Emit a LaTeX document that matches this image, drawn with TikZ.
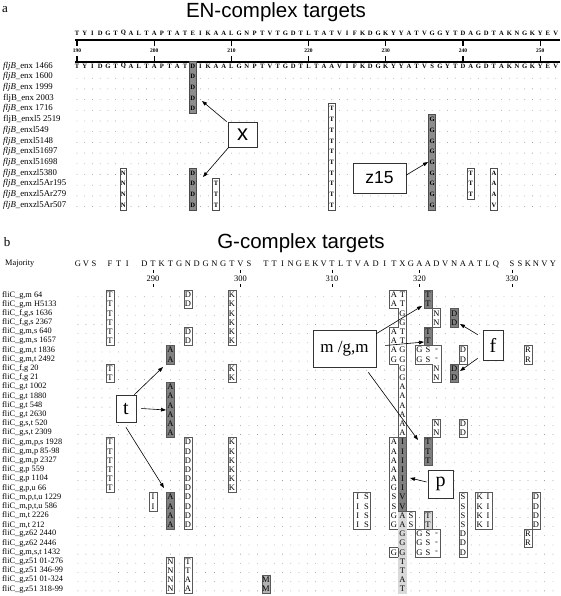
\documentclass[tikz,border=0pt]{standalone}
\usepackage{fontspec}
\setmainfont{Liberation Serif}
\newfontfamily\sansf{Liberation Sans}
\usetikzlibrary{arrows.meta}
\newcommand\BX[1]{\csname bx#1\endcsname}
\newcommand\RY[1]{(295+((#1)-1)*9.19)}
\newcommand\AX[1]{(77+(#1)*7.72)}
\newcommand\AY[1]{(66+((#1)-1)*10.7)}
\newcommand\abx[4]{\draw[#1] ({\AX{#2}-3.4},{\AY{#3}-5}) rectangle ({\AX{#2}+3.4},{\AY{#4}+5});}
\newcommand\alets[3]{\foreach \c [count=\i from 0] in {#3} {\node[alet] at ({\AX{#1}},{\AY{#2+\i}}) {\c};}}
\newcommand\bbx[5]{\draw[#1] ({\BX{#2}-4.1},{\RY{#4}-4.6}) rectangle ({\BX{#3}+4.1},{\RY{#5}+4.6});}
\newcommand\blets[3]{\foreach \c [count=\i from 0] in {#3} {\node[blet] at ({\BX{#1}},{\RY{#2+\i}}) {\c};}}
\begin{document}
\begin{tikzpicture}[x=1pt,y=-1pt,
  arr/.style={-{Triangle[length=5pt,width=3.6pt]},line width=0.6pt},
  labbox/.style={draw=black!80,line width=0.7pt,fill=white,inner sep=0pt},
  ttl/.style={font=\sansf\fontsize{20.5}{20.5}\selectfont,anchor=base},
  panl/.style={font=\fontsize{13}{13}\selectfont,inner sep=0pt,anchor=base},
  aname/.style={anchor=west,font=\fontsize{8.8}{8.8}\selectfont,inner sep=0pt},
  bname/.style={anchor=west,font=\fontsize{8.3}{8.3}\selectfont,inner sep=0pt},
  alet/.style={font=\bfseries\fontsize{6.6}{6.6}\selectfont,inner sep=0pt},
  anum/.style={font=\bfseries\fontsize{5.5}{5.5}\selectfont,inner sep=0pt},
  blet/.style={font=\fontsize{8.5}{8.5}\selectfont,inner sep=0pt},
  abox/.style={draw=black!70,line width=0.6pt,fill=white},
  agray/.style={draw=black!70,line width=0.6pt,fill=black!45},
  bw/.style={draw=black!65,line width=0.7pt,fill=white},
  bd/.style={draw=black!65,line width=0.7pt,fill=black!50},
  bm/.style={draw=black!65,line width=0.7pt,fill=black!30},
  bl/.style={draw=black!65,line width=0.7pt,fill=black!15},
  dots/.style={fill=black!45},
]
\useasboundingbox (0,0) rectangle (560,596);
\fill[white] (0,0) rectangle (560,596);
\foreach \v [count=\i from 0] in {78,86,94,102,110,118.6,127.2,135.8,144.4,153,161.8,170.5,179.3,188,196.8,205.6,214.4,223.2,232,240.5,249,257.5,266,274.3,282.5,290.8,299,307.3,315.5,323.8,332,340.6,349.3,357.9,366.5,375.7,384.8,394,402.5,411,419.5,428,436.5,445.3,454.2,463,471.3,479.7,488,496,504,512,520,528,536,544.5,553} {\expandafter\xdef\csname bx\i\endcsname{\v}}

% ---------------- panel a ----------------
\node[panl] (pa) at (5,13) {a};
\node[ttl] (ta) at (276,17.5) {EN-complex targets};
\foreach \c [count=\i from 0] in {T,Y,I,D,G,T,Q,A,L,T,A,P,T,A,T,E,I,K,A,A,L,G,N,P,T,V,T,G,D,T,L,T,A,T,V,I,F,K,D,G,K,Y,Y,A,T,V,G,G,Y,T,D,A,G,D,T,A,K,N,G,K,Y,E,V} {\node[alet] at ({\AX{\i}},33) {\c};}
\draw[line width=1.1pt] (75,40) -- (560,40);
\draw[line width=1.1pt] (75,62) -- (560,62);
\foreach \n [count=\i from 0] in {190,200,210,220,230,240,250} {
  \draw[line width=1.3pt] ({\AX{10*\i}},40) -- ({\AX{10*\i}},46);
  \draw[line width=1.3pt] ({\AX{10*\i}},56) -- ({\AX{10*\i}},62);
  \node[anum] at ({\AX{10*\i}},51) {\n};
}
\node[aname] (a1) at (3,{\AY{1}}) {\textit{fljB}\_enx 1466};
\node[aname] (a2) at (3,{\AY{2}}) {\textit{fljB}\_enx 1600};
\node[aname] (a3) at (3,{\AY{3}}) {\textit{fljB}\_enx 1999};
\node[aname] (a4) at (3,{\AY{4}}) {fljB\_enx 2003};
\node[aname] (a5) at (3,{\AY{5}}) {\textit{fljB}\_enx 1716};
\node[aname] (a6) at (3,{\AY{6}}) {fljB\_enxl5 2519};
\node[aname] (a7) at (3,{\AY{7}}) {\textit{fljB}\_enxl549};
\node[aname] (a8) at (3,{\AY{8}}) {\textit{fljB}\_enxl5148};
\node[aname] (a9) at (3,{\AY{9}}) {\textit{fljB}\_enxl51697};
\node[aname] (a10) at (3,{\AY{10}}) {\textit{fljB}\_enxl51698};
\node[aname] (a11) at (3,{\AY{11}}) {\textit{fljB}\_enxzl5380};
\node[aname] (a12) at (3,{\AY{12}}) {\textit{fljB}\_enxzl5Ar195};
\node[aname] (a13) at (3,{\AY{13}}) {\textit{fljB}\_enxzl5Ar279};
\node[aname] (a14) at (3,{\AY{14}}) {\textit{fljB}\_enxzl5Ar507};
\fill[dots] \foreach \r in {2,...,14} {\foreach \c in {0,...,62} {({\AX{\c}},{\AY{\r}+1.5}) circle (0.42)}};
\abx{agray}{15}{1}{5} \alets{15}{2}{D,D,D,D}
\abx{agray}{15}{11}{14} \alets{15}{11}{D,D,D,D}
\abx{abox}{33}{5}{14} \alets{33}{5}{T,T,T,T,T,T,T,T,T,T}
\abx{agray}{46}{6}{14} \alets{46}{6}{G,G,G,G,G,G,G,G,G}
\abx{abox}{6}{11}{14} \alets{6}{11}{N,N,N,N}
\abx{abox}{18}{12}{14} \alets{18}{12}{T,T,T}
\abx{abox}{51}{11}{13} \alets{51}{11}{T,T,T}
\abx{abox}{54}{11}{14} \alets{54}{11}{A,A,A,V}
\foreach \c [count=\i from 0] in {T,Y,I,D,G,T,Q,A,L,T,A,P,T,A,T,D,I,K,A,A,L,G,N,P,T,V,T,G,D,T,L,T,A,A,V,I,F,K,D,G,K,Y,Y,A,T,V,S,G,Y,T,D,A,G,D,T,A,K,N,G,K,Y,E,V} {\node[alet] at ({\AX{\i}},{\AY{1}}) {\c};}
\node[labbox,minimum width=29pt,minimum height=25pt,font=\sansf\fontsize{22}{22}\selectfont] (xlab) at (242.5,134.5) {x};
\node[labbox,minimum width=53pt,minimum height=30pt,font=\sansf\fontsize{17.5}{17.5}\selectfont] (zlab) at (379.5,178) {z15};
\coordinate (xa1) at (202,101);
\coordinate (xa2) at (203,177);
\coordinate (za) at (428,162);
\draw[arr] ([xshift=-1pt]xlab.north west) -- (xa1);
\draw[arr] ([xshift=1pt]xlab.south west) -- (xa2);
\draw[arr] ([yshift=3pt]zlab.east) -- (za);

% ---------------- panel b ----------------
\node[panl] (pb) at (7,246) {b};
\node[ttl] (tb) at (301,248) {G-complex targets};
\node[bname] (maj) at (5,264) {Majority};
\foreach \k/\c in {0/G,1/V,2/S,4/F,5/T,6/I,8/D,9/T,10/K,11/T,12/G,13/N,14/D,15/G,16/N,17/G,18/T,19/V,20/S,22/T,23/T,24/I,25/N,26/G,27/E,28/K,29/V,30/T,31/L,32/T,33/V,34/A,35/D,36/I,37/T,38/X,39/G,40/A,41/A,42/D,43/V,44/N,45/A,46/A,47/T,48/L,49/Q,51/S,52/S,53/K,54/N,55/V,56/Y} {\node[blet] at ({\BX{\k}},264) {\c};}
\foreach \k/\n in {9/290,19/300,30/310,40/320,51/330} {
  \draw[line width=0.5pt] ({\BX{\k}},269.5) -- ({\BX{\k}},272.5);
  \node[blet] at ({\BX{\k}},278.5) {\n};
  \draw[line width=0.5pt] ({\BX{\k}},284) -- ({\BX{\k}},287);
}
\foreach \r/\t in {1/{fliC\_g,m 64},2/{fliC\_g,m H5133},3/{fliC\_f,g,s 1636},4/{fliC\_f,g,s 2367},5/{fliC\_g,m,s 640},6/{fliC\_g,m,s 1657},7/{fliC\_g,m,t 1836},8/{fliC\_g,m,t 2492},9/{fliC\_f,g 20},10/{fliC\_f,g 21},11/{fliC\_g,t 1002},12/{fliC\_g,t 1880},13/{fliC\_g,t 548},14/{fliC\_g,t 2630},15/{fliC\_g,s,t 520},16/{fliC\_g,s,t 2309},17/{fliC\_g,m,p,s 1928},18/{fliC\_g,m,p 85-98},19/{fliC\_g,m,p 2327},20/{fliC\_g,p 559},21/{fliC\_g,p 1104},22/{fliC\_g,p,u 66},23/{fliC\_m,p,t,u 1229},24/{fliC\_m,p,t,u 586},25/{fliC\_m,t 2226},26/{fliC\_m,t 212},27/{fliC\_g,z62 2440},28/{fliC\_g,z62 2446},29/{fliC\_g,m,s,t 1432},30/{fliC\_g,z51 01-276},31/{fliC\_g,z51 346-99},32/{fliC\_g,z51 01-324},33/{fliC\_g,z51 318-99}} {\node[bname] (b\r) at (2,{\RY{\r}}) {\t};}
\fill[dots] \foreach \r in {1,...,33} {\foreach \k in {0,...,56} {({\BX{\k}},{\RY{\r}+1.8}) circle (0.42)}};
% simple boxes
\bbx{bw}{4}{4}{1}{6} \blets{4}{1}{T,T,T,T,T,T}
\bbx{bw}{4}{4}{9}{10} \blets{4}{9}{T,T}
\bbx{bw}{4}{4}{17}{22} \blets{4}{17}{T,T,T,T,T,T}
\bbx{bw}{13}{13}{1}{2} \blets{13}{1}{D,D}
\bbx{bw}{13}{13}{5}{6} \blets{13}{5}{D,D}
\bbx{bw}{13}{13}{17}{26} \blets{13}{17}{D,D,D,D,D,D,D,D,D,D}
\bbx{bw}{18}{18}{1}{6} \blets{18}{1}{K,K,K,K,K,K}
\bbx{bw}{18}{18}{9}{10} \blets{18}{9}{K,K}
\bbx{bw}{18}{18}{17}{22} \blets{18}{17}{K,K,K,K,K,K}
\bbx{bd}{11}{11}{7}{8} \blets{11}{7}{A,A}
\bbx{bd}{11}{11}{11}{16} \blets{11}{11}{A,A,A,A,A,A}
\bbx{bd}{11}{11}{23}{26} \blets{11}{23}{A,A,A,A}
\bbx{bw}{9}{9}{23}{24} \blets{9}{23}{I,I}
\bbx{bw}{11}{11}{30}{33} \blets{11}{30}{N,N,N,N}
\bbx{bw}{13}{13}{30}{33} \blets{13}{30}{T,T,A,A}
\bbx{bm}{22}{22}{32}{33} \blets{22}{32}{M,M}
\bbx{bw}{33}{34}{23}{26} \blets{33}{23}{I,I,I,I} \blets{34}{23}{S,S,S,S}
\bbx{bd}{41}{41}{1}{2} \blets{41}{1}{T,T}
\bbx{bd}{41}{41}{5}{6} \blets{41}{5}{T,T}
\bbx{bd}{41}{41}{17}{19} \blets{41}{17}{T,T,T}
\bbx{bl}{41}{41}{25}{26} \blets{41}{25}{T,T}
\bbx{bw}{42}{42}{3}{4} \blets{42}{3}{N,N}
\bbx{bw}{42}{42}{15}{16} \blets{42}{15}{N,N}
\bbx{bd}{44}{44}{3}{4} \blets{44}{3}{D,D}
\bbx{bd}{44}{44}{9}{10} \blets{44}{9}{D,D}
\bbx{bw}{45}{45}{7}{8} \blets{45}{7}{D,D}
\bbx{bw}{45}{45}{15}{16} \blets{45}{15}{D,D}
\bbx{bw}{45}{45}{23}{29} \blets{45}{23}{S,S,S,S,D,D,D}
\bbx{bw}{47}{48}{23}{26} \blets{47}{23}{K,K,K,K} \blets{48}{23}{I,I,I,I}
\bbx{bw}{53}{53}{7}{8} \blets{53}{7}{R,R}
\bbx{bw}{53}{53}{27}{28} \blets{53}{27}{R,R}
\bbx{bw}{54}{54}{23}{26} \blets{54}{23}{D,D,D,D}
\bbx{bw}{40}{42}{27}{29} \blets{40}{27}{G,G,G} \blets{41}{27}{S,S,S} \blets{42}{27}{-,-,-}
% composite G S - / N box
\draw[bw] (415.25,{\RY{7}-4.6}) -- (440.9,{\RY{7}-4.6}) -- (440.9,{\RY{10}+4.6}) -- (432.25,{\RY{10}+4.6}) -- (432.25,{\RY{8}+4.6}) -- (415.25,{\RY{8}+4.6}) -- cycle;
\blets{40}{7}{G,G} \blets{41}{7}{S,S} \blets{42}{7}{-,-,N,N}
% big column
\def\La{389.75} \def\Lb{398.25} \def\Rb{406.75} \def\Rc{415.25}
\draw[bw] (\La,{\RY{1}-4.6}) -- (\Rb,{\RY{1}-4.6}) -- (\Rb,{\RY{24}+4.6}) -- (\Rc,{\RY{24}+4.6}) -- (\Rc,{\RY{26}+4.6}) -- (\Rb,{\RY{26}+4.6}) -- (\Rb,{\RY{33}+4.6}) -- (\Lb,{\RY{33}+4.6}) -- (\Lb,{\RY{29}+4.6}) -- (\La,{\RY{29}+4.6}) -- (\La,{\RY{29}-4.6}) -- (\Lb,{\RY{29}-4.6}) -- (\Lb,{\RY{26}+4.6}) -- (\La,{\RY{26}+4.6}) -- (\La,{\RY{17}-4.6}) -- (\Lb,{\RY{17}-4.6}) -- (\Lb,{\RY{8}+4.6}) -- (\La,{\RY{8}+4.6}) -- (\La,{\RY{5}-4.6}) -- (\Lb,{\RY{5}-4.6}) -- (\Lb,{\RY{2}+4.6}) -- (\La,{\RY{2}+4.6}) -- cycle;
\fill[black!50] (\Lb,{\RY{17}-4.6}) rectangle (\Rb,{\RY{24}+4.6});
\fill[black!15] (\Lb,{\RY{25}-4.6}) rectangle (\Rb,{\RY{33}+4.6});
\draw[black!65,line width=0.7pt] (\Lb,{\RY{17}-4.6}) rectangle (\Rb,{\RY{24}+4.6});
\draw[black!65,line width=0.7pt] (\Lb,{\RY{29}-4.6}) -- (\Lb,{\RY{29}+4.6});
\blets{37}{1}{A,A} \blets{37}{5}{A,A,A,G} \blets{37}{17}{A,A,A,A,A,G,S,S,G,G} \blets{37}{29}{G}
\blets{38}{1}{T,T,G,G,T,T,G,G,G,G,A,A,A,A,A,A,I,I,I,I,I,I,V,V,A,A,G,G,G,T,T,A,T}
\blets{39}{25}{S,S}
% label boxes and arrows
\node[labbox,minimum width=20pt,minimum height=27pt,font=\fontsize{20}{20}\selectfont] (tlab) at (126,408.5) {t};
\node[labbox,minimum width=63pt,minimum height=37pt,font=\fontsize{17}{17}\selectfont] (mlab) at (344.5,348.5) {m /g,m};
\node[labbox,minimum width=20pt,minimum height=30pt,font=\fontsize{20}{20}\selectfont] (flab) at (493,345) {f};
\node[labbox,minimum width=25pt,minimum height=28pt,font=\fontsize{20}{20}\selectfont] (plab) at (440.5,484) {p};
\coordinate (ta1) at (163,367);
\coordinate (ta2) at (166,410);
\coordinate (ta3) at (164,488);
\coordinate (ma1) at (422,306);
\coordinate (ma2) at (424,342);
\coordinate (ma3) at (418,440);
\coordinate (fa1) at (460,324);
\coordinate (fa2) at (460,371);
\coordinate (pa) at (410,478);
\draw[arr] ([xshift=-2pt]tlab.north east) -- (ta1);
\draw[arr] ([xshift=5pt]tlab.east) -- (ta2);
\draw[arr] ([yshift=-5pt]tlab.south) -- (ta3);
\draw[arr] ([yshift=-4pt]mlab.north east) -- (ma1);
\draw[arr] ([xshift=9pt,yshift=3pt]mlab.east) -- (ma2);
\draw[arr] ([xshift=-8pt,yshift=-5pt]mlab.south east) -- (ma3);
\draw[arr] ([xshift=-5pt,yshift=-5pt]flab.north west) -- (fa1);
\draw[arr] ([xshift=-5pt,yshift=2pt]flab.south west) -- (fa2);
\draw[arr] ([xshift=-1pt,yshift=2pt]plab.west) -- (pa);
\end{tikzpicture}
\end{document}
